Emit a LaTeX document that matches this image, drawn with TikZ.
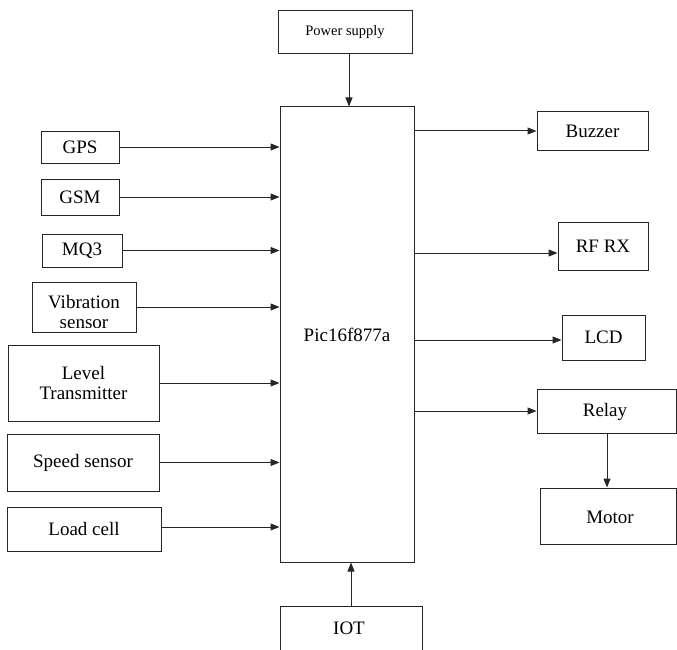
\documentclass[tikz,border=0pt]{standalone}
\usepackage{fontspec}
\setmainfont{Liberation Serif}
\usetikzlibrary{arrows.meta,calc}
\begin{document}
\begin{tikzpicture}[x=1pt,y=-1pt,
  box/.style={draw=black!85,line width=1pt,rectangle,inner sep=0pt,
    font=\fontsize{19}{20}\selectfont,align=center},
  conn/.style={draw=black!85,line width=1pt,-{Triangle[length=9pt,width=7pt]}}]
\useasboundingbox (0,0) rectangle (677,650);
% main
\node[box,minimum width=134,minimum height=455] (main) at (347,334.5) {Pic16f877a};
\node[box,minimum width=134,minimum height=43,font=\fontsize{14.5}{16}\selectfont] (power) at (345,32.5) {Power supply};
\node[box,minimum width=142,minimum height=50] (iot) at (351,631) {};
\node[font=\fontsize{19}{20}\selectfont] (iott) at (349,628) {IOT};
% inputs
\node[box,minimum width=78,minimum height=31] (gps) at (80,147.5) {GPS};
\node[box,minimum width=78,minimum height=36] (gsm) at (80,197) {GSM};
\node[box,minimum width=80,minimum height=33] (mq) at (82,250.5) {MQ3};
\node[box,minimum width=104,minimum height=50] (vib) at (84,307) {};
\begin{scope}
\clip ($(vib.north west)+(1,1)$) rectangle ($(vib.south east)+(-1,-5)$);
\node[font=\fontsize{19}{20}\selectfont,align=center,anchor=north] (vibt) at (84,292) {Vibration\\sensor};
\end{scope}
\node[box,minimum width=151,minimum height=76] (lev) at (83.5,383) {Level\\Transmitter};
\node[box,minimum width=152,minimum height=57] (spd) at (83,462.5) {Speed sensor};
\node[box,minimum width=154,minimum height=44] (load) at (84,529) {Load cell};
% outputs
\node[box,minimum width=111,minimum height=38] (buz) at (592.5,131) {Buzzer};
\node[box,minimum width=90,minimum height=48] (rf) at (603,246) {RF RX};
\node[box,minimum width=83,minimum height=45] (lcd) at (603.5,337.5) {LCD};
\node[box,minimum width=139,minimum height=44] (relay) at (606.5,411) {};
\node[font=\fontsize{19}{20}\selectfont] (relayt) at (605,412) {Relay};
\node[box,minimum width=136,minimum height=56] (motor) at (608,516) {};
\node[font=\fontsize{19}{20}\selectfont] (motort) at (610,517) {Motor};
% helper coordinates
\coordinate (yg) at (0,147);
\coordinate (yrf) at (0,253);
\coordinate (ylcd) at (0,340);
\coordinate (yld) at (0,527);
\coordinate (xp) at (349,0);
\coordinate (xi) at (351,0);
\coordinate (xm) at (607,0);
% connectors
\draw[conn] (gps.east |- yg) -- (main.west |- yg);
\draw[conn] (gsm.east) -- (main.west |- gsm.east);
\draw[conn] (mq.east) -- (main.west |- mq.east);
\draw[conn] (vib.east) -- (main.west |- vib.east);
\draw[conn] (lev.east) -- (main.west |- lev.east);
\draw[conn] (spd.east) -- (main.west |- spd.east);
\draw[conn] (load.east |- yld) -- (main.west |- yld);
\draw[conn] (main.east |- buz.west) -- (buz.west);
\draw[conn] (main.east |- yrf) -- (rf.west |- yrf);
\draw[conn] (main.east |- ylcd) -- (lcd.west |- ylcd);
\draw[conn] (main.east |- relay.west) -- (relay.west);
\draw[conn] (power.south -| xp) -- (main.north -| xp);
\draw[conn] (iot.north -| xi) -- (main.south -| xi);
\draw[conn] (relay.south -| xm) -- (motor.north -| xm);
\end{tikzpicture}
\end{document}
